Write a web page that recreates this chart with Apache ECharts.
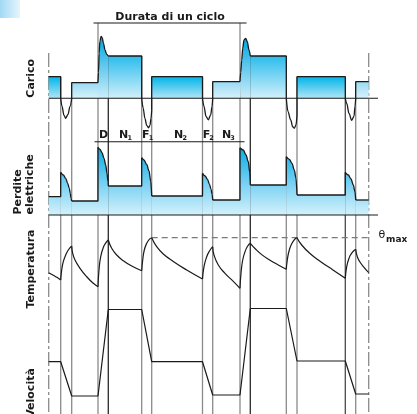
<!DOCTYPE html>
<html><head><meta charset="utf-8">
<script src="https://cdn.jsdelivr.net/npm/echarts@6/dist/echarts.min.js"></script>
<style>html,body{margin:0;padding:0;background:#fff}#c{width:417px;height:414px}</style>
</head><body><div id="c"></div>
<script>
// time of each event (boundaries between phases)
const eventTimes = [0, 12, 23, 49.3, 59.6, 93, 103, 153.8, 164, 191.3, 201.6, 237.6, 248.3, 296.6, 307, 320];
const cycleStarts = [49.3, 191.3];
const boundaryTimes = [0, 320];
const darkEvents = [59.6, 201.6, 296.6];

// Carico (load) segments
const caricoSegments = [
  ['N2', [[0,21.6],[12,21.6],[12,0]]],
  ['F2', [[12,0],[13.3,-8],[15.3,-17],[17,-20],[19.3,-16],[21.3,-8],[23,0]]],
  ['N3', [[23,0],[23,15.6],[49.3,15.6]]],
  ['D',  [[49.3,15.6],[49.8,26],[50.4,45],[51.2,57],[52.4,62],[53.6,60.5],[54.8,55],[56.3,48.5],[58,44],[59.6,42.3]]],
  ['N1', [[59.6,42.3],[93,42.3],[93,0]]],
  ['F1', [[93,0],[94.5,-10],[96.2,-20],[98,-27],[99.8,-29.5],[101.3,-27],[102.3,-20],[103,-12]]],
  ['N2', [[103,-12],[103,21.6],[153.8,21.6],[153.8,0]]],
  ['F2', [[153.8,0],[155.3,-8],[157.3,-18],[159.6,-21.5],[162,-16.5],[163.3,-8.3],[164,0]]],
  ['N3', [[164,0],[164,16.6],[191.3,16.6]]],
  ['D',  [[191.3,16.6],[192,26],[193,38],[194,50],[195.3,58.3],[197,60],[198.6,56.6],[200.3,48.3],[201.6,42.3]]],
  ['N1', [[201.6,42.3],[237.6,42.3],[237.6,0]]],
  ['F1', [[237.6,0],[239.3,-13.4],[242,-21.7],[244,-28.4],[245.6,-30],[247.3,-26.7],[248.3,-16.7]]],
  ['N2', [[248.3,-16.7],[248.3,21.6],[296.6,21.6],[296.6,0]]],
  ['F2', [[296.6,0],[298,-5],[300.3,-15],[303,-22],[305.3,-18],[306.3,-8],[307,0]]],
  ['N3', [[307,0],[307,16.6],[320,16.6]]]
];

// Perdite elettriche (electrical losses) segments
const perditeSegments = [
  ['N2', [[0,18.3],[12,18.3],[12,42.7]]],
  ['F2', [[12,42.7],[14.6,40],[17,36.7],[19,31.7],[20.6,26.7],[21.6,21.7],[22.3,16.7],[23,14]]],
  ['N3', [[23,14],[49.3,14],[49.3,67.7]]],
  ['D',  [[49.3,67.7],[51.3,65.7],[53.3,62.3],[55.3,56.7],[57,50],[58.3,41.7],[59.3,33.3],[59.6,29]]],
  ['N1', [[59.6,29],[93,29],[93,57.3]]],
  ['F1', [[93,57.3],[95.3,55],[98,50.7],[100.3,44],[102,34],[103,19]]],
  ['N2', [[103,19],[153.8,19],[153.8,41.7]]],
  ['F2', [[153.8,41.7],[156.4,39],[158.8,35.7],[160.8,30.7],[162.4,25.7],[163.4,20.7],[164,15]]],
  ['N3', [[164,15],[191.3,15],[191.3,67.3]]],
  ['D',  [[191.3,67.3],[194.6,65],[197.3,60],[199.6,53.3],[201,43],[201.6,30]]],
  ['N1', [[201.6,30],[237.6,30],[237.6,58.3]]],
  ['F1', [[237.6,58.3],[240.6,55.7],[243.3,51.7],[245.6,45],[247.3,36.7],[248.3,20]]],
  ['N2', [[248.3,20],[296.6,20],[296.6,42.7]]],
  ['F2', [[296.6,42.7],[299.6,40],[302.3,36],[304.6,30],[306.3,23.3],[307,15]]],
  ['N3', [[307,15],[320,15]]]
];

// Temperatura pieces (each heating / cooling stretch)
const tempPieces = [
  [[0,22.3],[4.6,19.8],[8.6,17.4],[12,15]],
  [[12,15],[13,25],[14.6,33.3],[17,40],[19.6,45],[23,49]],
  [[23,49],[24,41.7],[26.3,35],[31.3,26.7],[38,18.3],[44.6,11.7],[49.3,8.3]],
  [[49.3,8.3],[50.3,25],[52,38.3],[54.6,47.5],[57.3,52.3],[59.6,55]],
  [[59.6,55],[63,46.7],[68,40],[74.6,34.3],[83,29],[93,24.3]],
  [[93,24.3],[94,35],[95.6,45],[98,51.7],[100.6,55.7],[103,57.3]],
  [[103,57.3],[108,48.3],[114.6,41],[124.6,33.5],[138,25],[153.8,16]],
  [[153.8,16],[155.3,28.3],[158,38.3],[160.6,43.8],[164,48.3]],
  [[164,48.3],[165.3,40],[169.6,30],[176.3,21.7],[184.6,13.6],[191.3,6.7]],
  [[191.3,6.7],[192.3,21.7],[194,35],[196.3,43.3],[199,49],[201.6,51.7]],
  [[201.6,51.7],[206.3,46.5],[213,40.4],[221.3,34.8],[229.6,30],[237.6,25.7]],
  [[237.6,25.7],[238.6,35],[240.6,45],[243.3,51.7],[246.3,56],[248.3,57.3]],
  [[248.3,57.3],[253,50],[261.3,41.5],[271.3,33.8],[284.6,24.8],[296.6,16.7]],
  [[296.6,16.7],[298,28.3],[300.3,36.7],[303,41.9],[307,45.7]],
  [[307,45.7],[308.6,38.3],[311.3,33],[315.3,27.6],[320,22.3]]
];
const thetaMax = 57.3;
const thetaRange = [103, 321.3];

// Velocità (speed)
const velocita = [[0,52.3],[12,52.3],[23,18],[49.3,18],[59.6,104.5],[93,104.5],[103,52.3],[153.8,52.3],
  [164,19],[191.3,19],[201.6,105.5],[237.6,105.5],[248.3,53],[296.6,53],[307,20],[320,20]];

// texts
const titleText = 'Durata di un ciclo';
const panelNames = ['Carico', 'Perdite', 'elettriche', 'Temperatura', 'Velocità'];
const phaseLabels = [['D',''],['N','1'],['F','1'],['N','2'],['F','2'],['N','3']];

// ---------------- layout / styles ----------------
const X_MAX = 329.3;
const FONT = '"DejaVu Sans", sans-serif';
const INK = '#1a1a1a';
const curveKinds = {D:1, F1:1, F2:1};
const caricoFill = {
  D:  ['#00a6e0', '#cdeefb'],
  N1: ['#2bbcec', '#d2f0fb'],
  N2: ['#00b5e8', '#b2e5f7'],
  N3: ['#9bdaf3', '#d6f2fc']
};
const grids = [
  {left:48.7, width:X_MAX, top:0, height:414},     // frame (carico units)
  {left:48.7, width:X_MAX, top:33.3, height:97},   // carico
  {left:48.7, width:X_MAX, top:145, height:70},    // perdite
  {left:48.7, width:X_MAX, top:230, height:65},    // temperatura
  {left:48.7, width:X_MAX, top:300, height:114}    // velocita
];
const yRanges = [[-315.7, 98.3], [-32, 65], [0, 70], [0, 65], [0, 114]];

const series = [];
function line(gi, data, opt) {
  series.push(Object.assign({
    type:'line', xAxisIndex:gi, yAxisIndex:gi, data:data, symbol:'none', silent:true,
    clip:false, animation:false, z:3,
    lineStyle:{color:INK, width:1.3}
  }, opt || {}));
}

// event lines in frame grid
const caricoPts = caricoSegments.flatMap(s => s[1]);
const FRAME_BOTTOM = yRanges[0][0];
eventTimes.forEach(t => {
  let top, type = 'solid', color = '#8a8a8a';
  if (cycleStarts.includes(t)) top = 75.3;
  else if (boundaryTimes.includes(t)) { top = 45.3; type = [14,3,3,3]; }
  else top = Math.max(...caricoPts.filter(p => Math.abs(p[0]-t) < 0.01).map(p => p[1]));
  if (darkEvents.includes(t)) color = t === 296.6 ? '#4a4a4a' : '#2a2a2a';
  line(0, [[t, top], [t, FRAME_BOTTOM]], {z:1, lineStyle:{color:color, width:1.3, type:type}});
});
// brackets
line(0, [[44.8, 75.3], [197.8, 75.3]], {lineStyle:{color:INK, width:1.1}});
line(0, [[45.8, -43.4], [195.8, -43.4]], {lineStyle:{color:INK, width:1.1}});

// carico
line(1, [[0,0],[X_MAX,0]], {lineStyle:{color:INK, width:1.1}});
caricoSegments.forEach(([kind, pts]) => {
  const smooth = curveKinds[kind] ? 0.35 : false;
  line(1, pts, {smooth:smooth, smoothMonotone:'x'});
  if (caricoFill[kind]) {
    const c = caricoFill[kind];
    line(1, pts.filter(p => p[1] >= 0), {smooth:smooth, smoothMonotone:'x', z:2,
      lineStyle:{width:0, opacity:0},
      areaStyle:{opacity:1, color:new echarts.graphic.LinearGradient(0,0,0,1,[{offset:0,color:c[0]},{offset:1,color:c[1]}])}});
  }
});

// perdite
const perditeGrad = new echarts.graphic.LinearGradient(0,145,0,215,[{offset:0,color:'#00abe6'},{offset:0.5,color:'#6dcdf1'},{offset:1,color:'#d4f1fc'}], true);
line(2, [[0,0],[X_MAX,0]], {lineStyle:{color:INK, width:1.1}, z:4});
perditeSegments.forEach(([kind, pts]) => {
  const smooth = curveKinds[kind] ? 0.35 : false;
  line(2, pts, {smooth:smooth, smoothMonotone:'x', areaStyle:{opacity:1, color:perditeGrad}});
});

// temperatura
tempPieces.forEach(pts => line(3, pts, {smooth:0.5, lineStyle:{color:INK, width:1.2}}));
line(3, [[thetaRange[0], thetaMax], [thetaRange[1], thetaMax]], {z:1, lineStyle:{color:'#7a7a7a', width:1.2, type:[6,4]}});

// velocita
line(4, velocita, {lineStyle:{color:INK, width:1.2}});

const xAxis = grids.map((g,i) => ({type:'value', gridIndex:i, min:0, max:X_MAX, show:false}));
const yAxis = grids.map((g,i) => ({type:'value', gridIndex:i, min:yRanges[i][0], max:yRanges[i][1], show:false}));

function txt(x, y, text, size, weight, align) {
  return {type:'text', x:x, y:y, silent:true, z:10,
    style:{text:text, fontSize:size, fontWeight:weight, fontFamily:FONT, fill:INK, align:align || 'left', verticalAlign:'middle'}};
}
function rot(x, y, text, align) {
  return {type:'text', x:x, y:y, rotation:Math.PI/2, silent:true, z:10,
    style:{text:text, fontSize:11, fontWeight:'bold', fontFamily:FONT, fill:INK, align:align, verticalAlign:'middle'}};
}
const graphic = [
  {type:'rect', shape:{x:0,y:0,width:20,height:18}, silent:true,
   style:{fill:new echarts.graphic.LinearGradient(0,0,1,0,[{offset:0,color:'#a2d9f4'},{offset:1,color:'#e6f5fd'}])}},
  txt(170, 16.8, titleText, 11, 'bold', 'center'),
  rot(31, 78.3, panelNames[0], 'center'),
  rot(18.5, 214.5, panelNames[1], 'left'),
  rot(30.5, 214.5, panelNames[2], 'left'),
  rot(31, 269, panelNames[3], 'center'),
  rot(31, 393, panelNames[4], 'center')
];
const labelX = [[99, 0], [119, 127.5], [142, 148.8], [174, 182.5], [202.8, 209.3], [222, 230.3]];
phaseLabels.forEach((l, i) => {
  graphic.push(txt(labelX[i][0], 134.8, l[0], 11, 'bold'));
  if (l[1]) graphic.push(txt(labelX[i][1], 138.6, l[1], 6.5, 'bold'));
});
graphic.push(txt(378.5, 235.5, 'θ', 11, 'normal'));
graphic.push(txt(386, 239.6, 'max', 9, 'bold'));

const chart = echarts.init(document.getElementById('c'), null, {renderer:'canvas'});
chart.setOption({animation:false, grid:grids, xAxis:xAxis, yAxis:yAxis, series:series, graphic:graphic});
</script></body></html>
